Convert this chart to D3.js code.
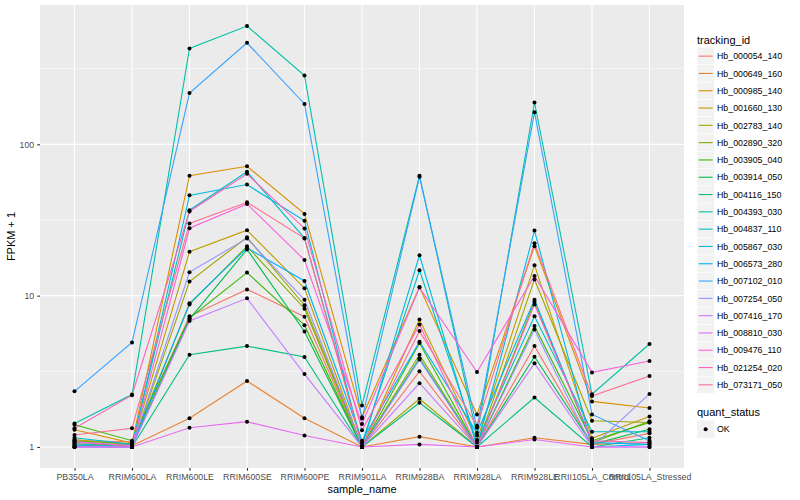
<!DOCTYPE html>
<html>
<head>
<meta charset="utf-8">
<script src="https://cdn.jsdelivr.net/npm/d3@7"></script>
<style>
  body { margin: 0; background: #fff; }
  text { font-family: "Liberation Sans", Arial, Helvetica, sans-serif; }
</style>
</head>
<body>
<div id="main"><svg width="800" height="500"></svg></div>
<script>
// Sample names (x categories)
var samples = ["PB350LA", "RRIM600LA", "RRIM600LE", "RRIM600SE", "RRIM600PE", "RRIM901LA",
    "RRIM928BA", "RRIM928LA", "RRIM928LE", "RRII105LA_Control", "RRII105LA_Stressed"];

// Gene ids (series)
var trackingIds = ["Hb_000054_140", "Hb_000649_160", "Hb_000985_140", "Hb_001660_130", "Hb_002783_140",
    "Hb_002890_320", "Hb_003905_040", "Hb_003914_050", "Hb_004116_150", "Hb_004393_030",
    "Hb_004837_110", "Hb_005867_030", "Hb_006573_280", "Hb_007102_010", "Hb_007254_050",
    "Hb_007416_170", "Hb_008810_030", "Hb_009476_110", "Hb_021254_020", "Hb_073171_050"];

// FPKM + 1 per gene, in the order of samples
var fpkmPlus1 = [
    [1.10, 1.08, 7.3, 11.0, 7.26, 1.0, 3.16, 1.0, 4.64, 1.04, 1.23],
    [1.05, 1.02, 1.55, 2.73, 1.55, 1.0, 1.17, 1.0, 1.15, 1.04, 1.07],
    [1.30, 1.06, 62, 71.6, 34.7, 1.57, 11.4, 1.64, 21.2, 2.0, 1.81],
    [1.12, 1.03, 19.5, 27.1, 11.2, 1.0, 6.96, 1.11, 15.9, 1.14, 1.59],
    [1.03, 1.0, 12.4, 24.3, 8.65, 1.0, 2.08, 1.0, 12.8, 1.49, 1.45],
    [1.10, 1.05, 8.75, 21.2, 8.2, 1.0, 4.07, 1.0, 9.1, 1.07, 1.48],
    [1.40, 1.10, 7.1, 14.2, 6.38, 1.0, 4.86, 1.0, 6.3, 1.10, 1.45],
    [1.08, 1.02, 7.0, 20.2, 5.8, 1.0, 3.85, 1.0, 3.95, 1.04, 1.31],
    [1.0, 1.0, 4.07, 4.64, 3.93, 1.0, 1.96, 1.0, 2.12, 1.0, 1.15],
    [1.43, 2.22, 430, 605, 285, 1.88, 62, 1.19, 189, 2.23, 4.79],
    [1.15, 1.04, 36.7, 65.8, 24.0, 1.06, 14.7, 1.07, 7.3, 1.26, 1.26],
    [1.05, 1.0, 46, 54.2, 31.2, 1.0, 18.5, 1.0, 26.9, 1.0, 1.04],
    [1.02, 1.0, 8.9, 20.7, 12.5, 1.10, 4.96, 1.24, 9.4, 1.07, 1.04],
    [2.33, 4.9, 218, 469, 185, 1.54, 61, 1.34, 163, 1.64, 1.10],
    [1.0, 1.0, 14.3, 23.9, 9.4, 1.0, 3.78, 1.0, 5.98, 1.0, 2.24],
    [1.0, 1.0, 6.8, 9.6, 3.03, 1.0, 2.64, 1.0, 3.57, 1.0, 1.0],
    [1.0, 1.0, 1.34, 1.47, 1.19, 1.0, 1.04, 1.0, 1.12, 1.0, 1.0],
    [1.08, 1.02, 27.9, 40.4, 17.2, 1.42, 11.3, 3.13, 13.5, 3.11, 3.70],
    [1.33, 2.20, 36, 63.8, 27.8, 1.29, 6.45, 1.0, 8.75, 1.10, 1.07],
    [1.20, 1.33, 30, 41.4, 23.9, 1.02, 5.83, 1.38, 22.2, 2.17, 2.94]
];

var yTicks = [1, 10, 100];
var quantStatus = ["OK"];

// ggplot hue palette for 20 levels
var palette = ["#F8766D", "#EA8331", "#D89000", "#C09B00", "#A3A500", "#7CAE00", "#39B600", "#00BB4E",
    "#00BF7D", "#00C1A3", "#00BFC4", "#00BAE0", "#00B0F6", "#35A2FF", "#9590FF", "#C77CFF",
    "#E76BF3", "#FA62DB", "#FF62BC", "#FF6C91"];
var colorScale = d3.scaleOrdinal().domain(trackingIds).range(palette);

var svg = d3.select("#main").select("svg");

// Panel geometry
var panel = {left: 40, right: 684, top: 5, bottom: 468};

var xScale = d3.scalePoint()
    .domain(samples)
    .range([panel.left, panel.right])
    .padding(0.6);

// log scale with ggplot's 5% expansion
var maxVal = d3.max(fpkmPlus1, function(row) { return d3.max(row); });
var logSpan = Math.log10(maxVal);
var yScale = d3.scaleLog()
    .domain([Math.pow(10, -0.05 * logSpan), Math.pow(10, logSpan * 1.05)])
    .range([panel.bottom, panel.top]);

// Panel background
svg.append("rect")
    .attr("x", panel.left).attr("y", panel.top)
    .attr("width", panel.right - panel.left)
    .attr("height", panel.bottom - panel.top)
    .attr("fill", "#EBEBEB");

var gridG = svg.append("g");
var minorTicks = [Math.pow(10, 0.5), Math.pow(10, 1.5), Math.pow(10, 2.5)];
gridG.selectAll(".minor").data(minorTicks).enter().append("line")
    .attr("x1", panel.left).attr("x2", panel.right)
    .attr("y1", function(d) { return yScale(d); })
    .attr("y2", function(d) { return yScale(d); })
    .attr("stroke", "#fff").attr("stroke-width", 0.55);
gridG.selectAll(".major").data(yTicks).enter().append("line")
    .attr("x1", panel.left).attr("x2", panel.right)
    .attr("y1", function(d) { return yScale(d); })
    .attr("y2", function(d) { return yScale(d); })
    .attr("stroke", "#fff").attr("stroke-width", 1.1);
gridG.selectAll(".xgrid").data(samples).enter().append("line")
    .attr("x1", function(d) { return xScale(d); })
    .attr("x2", function(d) { return xScale(d); })
    .attr("y1", panel.top).attr("y2", panel.bottom)
    .attr("stroke", "#fff").attr("stroke-width", 1.1);

// Lines per gene
var line = d3.line()
    .x(function(d, i) { return xScale(samples[i]); })
    .y(function(d) { return yScale(d); });

var plotG = svg.append("g").attr("class", "line-plot");
trackingIds.forEach(function(id, k) {
    plotG.append("path")
        .datum(fpkmPlus1[k])
        .attr("d", line)
        .attr("fill", "none")
        .attr("stroke", colorScale(id))
        .attr("stroke-width", 1.1);
});

// Points
trackingIds.forEach(function(id, k) {
    plotG.selectAll(".pt" + k)
        .data(fpkmPlus1[k])
        .enter().append("circle")
        .attr("cx", function(d, i) { return xScale(samples[i]); })
        .attr("cy", function(d) { return yScale(d); })
        .attr("r", 2)
        .attr("fill", "#000");
});

// Axes
var xAxis = d3.axisBottom(xScale).tickSize(2.75).tickPadding(3);
var xAxisG = svg.append("g")
    .attr("transform", "translate(0," + panel.bottom + ")")
    .call(xAxis);
var yAxis = d3.axisLeft(yScale).tickValues(yTicks).tickFormat(d3.format("d")).tickSize(2.75).tickPadding(3);
var yAxisG = svg.append("g")
    .attr("transform", "translate(" + panel.left + ",0)")
    .call(yAxis);
[xAxisG, yAxisG].forEach(function(g) {
    g.select(".domain").remove();
    g.selectAll(".tick line").attr("stroke", "#333333").attr("stroke-width", 1.1);
    g.selectAll(".tick text").attr("fill", "#4D4D4D").style("font-size", "8.8px")
        .style("font-family", "'Liberation Sans', Arial, sans-serif");
});

// Axis titles
svg.append("text")
    .attr("x", (panel.left + panel.right) / 2).attr("y", 493)
    .attr("text-anchor", "middle")
    .style("font-size", "11px")
    .text("sample_name");
svg.append("text")
    .attr("transform", "translate(15," + (panel.top + panel.bottom) / 2 + ") rotate(-90)")
    .attr("text-anchor", "middle")
    .style("font-size", "11px")
    .text("FPKM + 1");

// Legend: tracking_id
var legendG = svg.append("g").attr("transform", "translate(697,0)");
legendG.append("text")
    .attr("x", 0).attr("y", 44)
    .style("font-size", "11px")
    .text("tracking_id");
var keyH = 17.3;
var keys = legendG.selectAll(".key").data(trackingIds).enter().append("g")
    .attr("transform", function(d, i) { return "translate(0," + (47.5 + i * keyH) + ")"; });
keys.append("rect")
    .attr("width", 17.3).attr("height", keyH)
    .attr("fill", "#F2F2F2").attr("stroke", "#fff").attr("stroke-width", 0.5);
keys.append("line")
    .attr("x1", 1.7).attr("x2", 15.6)
    .attr("y1", keyH / 2).attr("y2", keyH / 2)
    .attr("stroke", function(d) { return colorScale(d); })
    .attr("stroke-width", 1.1);
keys.append("text")
    .attr("x", 20).attr("y", keyH / 2 + 3.2)
    .style("font-size", "8.8px")
    .text(function(d) { return d; });

// Legend: quant_status
var qG = svg.append("g").attr("transform", "translate(697,0)");
qG.append("text")
    .attr("x", 0).attr("y", 416)
    .style("font-size", "11px")
    .text("quant_status");
var qKeys = qG.selectAll(".qkey").data(quantStatus).enter().append("g")
    .attr("transform", function(d, i) { return "translate(0," + (420.5 + i * keyH) + ")"; });
qKeys.append("rect")
    .attr("width", 17.3).attr("height", keyH)
    .attr("fill", "#F2F2F2");
qKeys.append("circle")
    .attr("cx", 8.65).attr("cy", keyH / 2).attr("r", 2).attr("fill", "#000");
qKeys.append("text")
    .attr("x", 20).attr("y", keyH / 2 + 3.2)
    .style("font-size", "8.8px")
    .text(function(d) { return d; });
</script>
</body>
</html>
